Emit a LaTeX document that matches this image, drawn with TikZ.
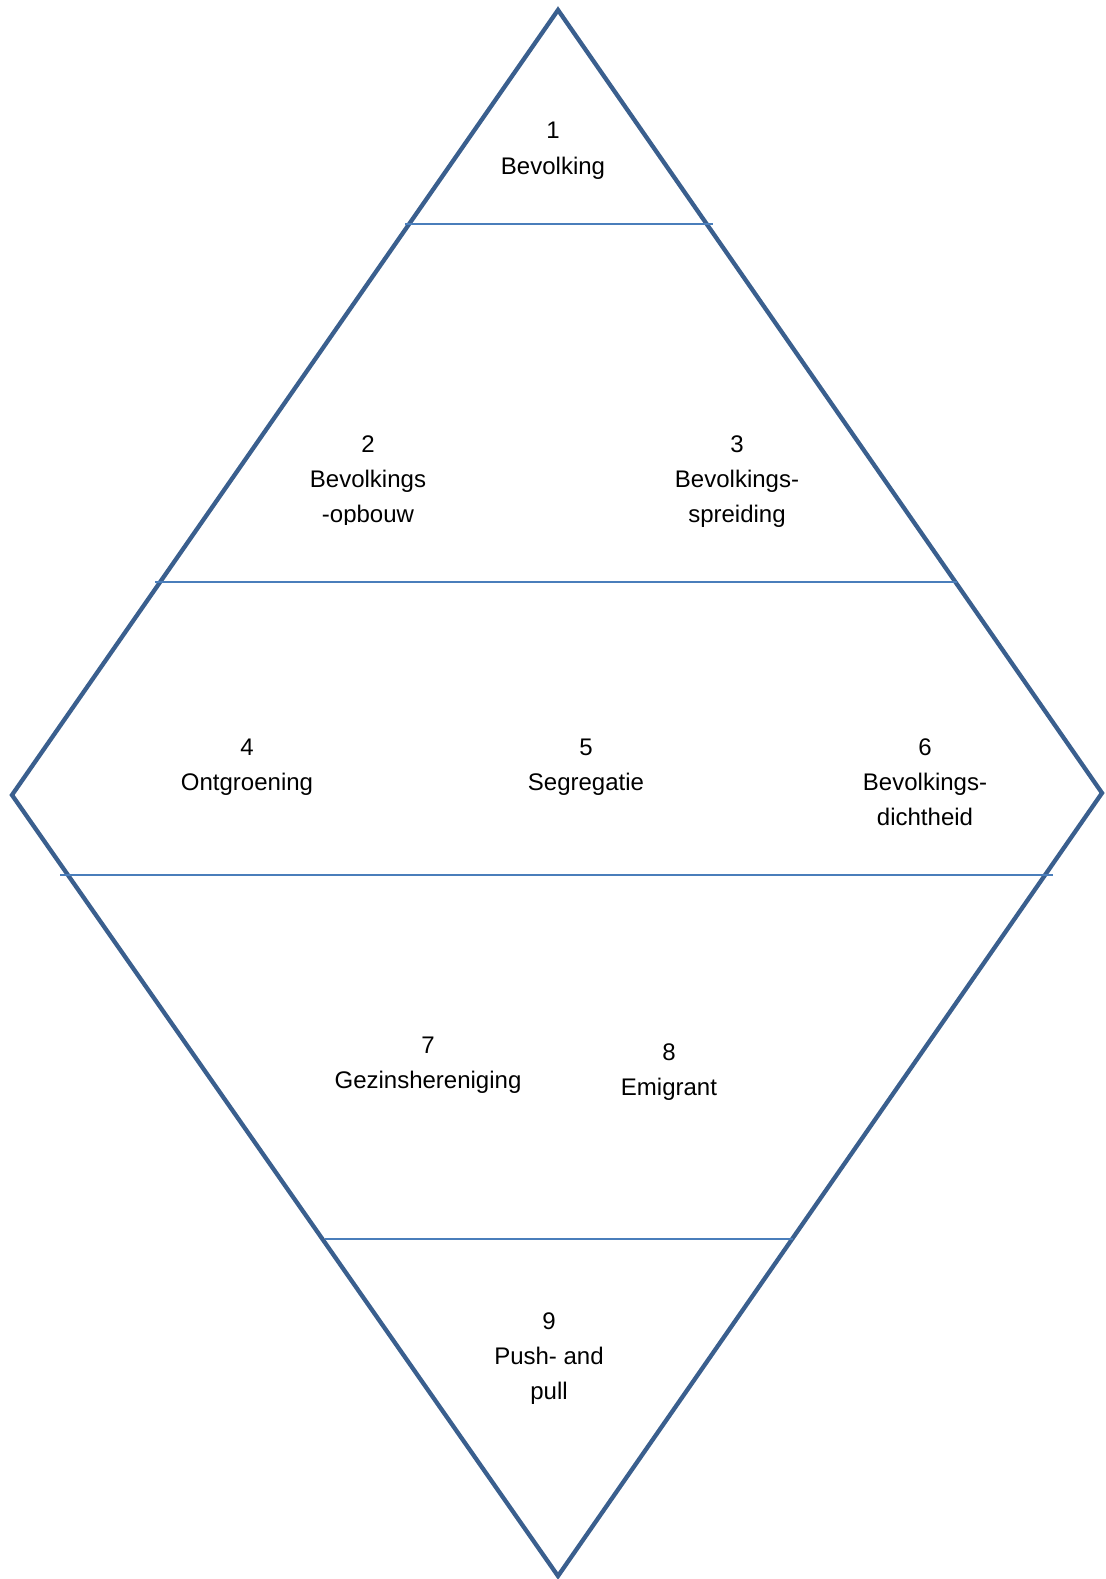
\documentclass[tikz,border=0pt]{standalone}
\usepackage{fontspec}
\setmainfont{Liberation Sans}
\definecolor{edgeblue}{HTML}{3A5F8E}
\definecolor{lineblue}{HTML}{4A7EBB}
\begin{document}
\begin{tikzpicture}[x=1bp,y=-1bp,
  outline/.style={draw=edgeblue,line width=4.3bp,line join=miter},
  divider/.style={draw=lineblue,line width=1.8bp},
  lbl/.style={font=\fontsize{24bp}{35bp}\selectfont,align=center,inner sep=0pt,anchor=base}]
\useasboundingbox (0,0) rectangle (1105,1579);
\coordinate (T) at (558,10);
\coordinate (L) at (12,795);
\coordinate (R) at (1102,793);
\coordinate (B) at (558,1576);
\draw[outline] (T) -- (R) -- (B) -- (L) -- cycle;
\coordinate (a1) at (405,224); \coordinate (a2) at (713,224);
\coordinate (b1) at (155,582); \coordinate (b2) at (957,582);
\coordinate (c1) at (60,875);  \coordinate (c2) at (1053,875);
\coordinate (d1) at (325,1239); \coordinate (d2) at (793,1239);
\draw[divider] (a1) -- (a2);
\draw[divider] (b1) -- (b2);
\draw[divider] (c1) -- (c2);
\draw[divider] (d1) -- (d2);
\node[lbl] (n1) at (553,174) {1\\Bevolking};
\begin{scope}
\clip (250,400) rectangle (480,524.5);
\node[lbl] (n2) at (368,522) {2\\Bevolkings\\-opbouw};
\end{scope}
\node[lbl] (n3) at (737,522) {3\\Bevolkings-\\spreiding};
\node[lbl] (n4) at (247,790) {4\\Ontgroening};
\node[lbl] (n5) at (586,790) {5\\Segregatie};
\node[lbl] (n6) at (925,825) {6\\Bevolkings-\\dichtheid};
\node[lbl] (n7) at (428,1088) {7\\Gezinshereniging};
\node[lbl] (n8) at (669,1095) {8\\Emigrant};
\node[lbl] (n9) at (549,1399) {9\\Push- and\\pull};
\end{tikzpicture}
\end{document}
